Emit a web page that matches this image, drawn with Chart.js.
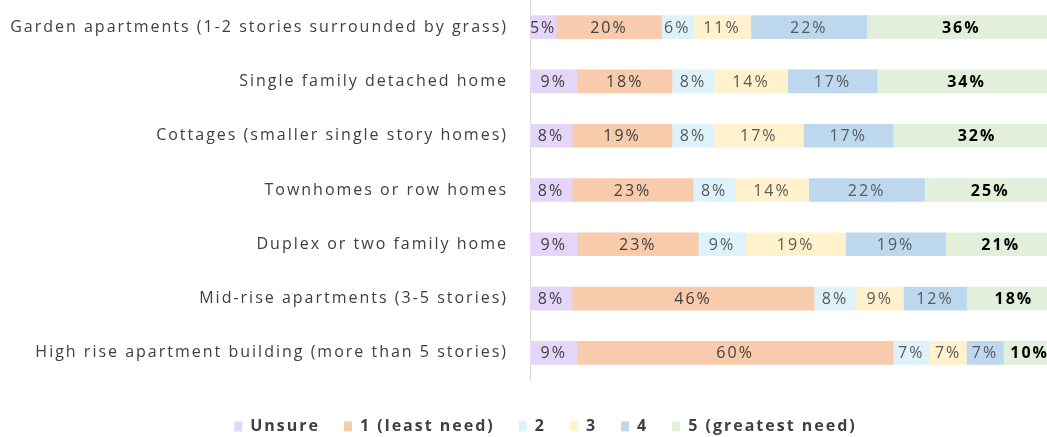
<!DOCTYPE html>
<html>
<head>
<meta charset="utf-8">
<script src="https://cdn.jsdelivr.net/npm/chart.js@4"></script>
<style>
    html, body { margin: 0; padding: 0; background: #fff; }
    #wrap { width: 1047px; height: 437px; }
</style>
</head>
<body>
<div id="wrap"><canvas id="housingChart"></canvas></div>
<script>
const categories = [
    'Garden apartments (1-2 stories surrounded by grass)',
    'Single family detached home',
    'Cottages (smaller single story homes)',
    'Townhomes or row homes',
    'Duplex or two family home',
    'Mid-rise apartments (3-5 stories)',
    'High rise apartment building (more than 5 stories)'
];

const seriesNames = ['Unsure', '1 (least need)', '2', '3', '4', '5 (greatest need)'];

const unsure = [5, 9, 8, 8, 9, 8, 9];
const need1 = [20, 18, 19, 23, 23, 46, 60];
const need2 = [6, 8, 8, 8, 9, 8, 7];
const need3 = [11, 14, 17, 14, 19, 9, 7];
const need4 = [22, 17, 17, 22, 19, 12, 7];
const need5 = [36, 34, 32, 25, 21, 18, 10];

const seriesColors = ['#e5d5f9', '#f8cbad', '#ddf2fb', '#fff2cc', '#bdd7ee', '#e2efda'];
const labelColors = ['#404040', '#404040', '#595959', '#595959', '#595959', '#000000'];

const FONT = "'Open Sans', sans-serif";
const SPACING = '2px';

// the reference text is set loosely, so widen the letters a bit
const looseText = {
    id: 'looseText',
    beforeLayout(chart) { chart.ctx.letterSpacing = SPACING; },
    beforeDraw(chart) { chart.ctx.letterSpacing = SPACING; },
    // the legend in the reference sits a little right of centre
    afterLayout(chart) { chart.legend.left += 44; }
};

// writes the percentage in the middle of each segment
const segmentLabels = {
    id: 'segmentLabels',
    afterDatasetsDraw(chart) {
        const ctx = chart.ctx;
        ctx.save();
        ctx.textAlign = 'center';
        ctx.textBaseline = 'middle';
        chart.data.datasets.forEach((dataset, i) => {
            const meta = chart.getDatasetMeta(i);
            ctx.fillStyle = labelColors[i];
            ctx.font = (i === 5 ? 'bold ' : '') + '16px ' + FONT;
            meta.data.forEach((bar, j) => {
                const cx = (bar.x + bar.base) / 2;
                ctx.fillText(dataset.data[j] + '%', cx, bar.y + 1);
            });
        });
        ctx.restore();
    }
};

function buildDatasets() {
    const values = [unsure, need1, need2, need3, need4, need5];
    return values.map((data, i) => ({
        label: seriesNames[i],
        data: data,
        backgroundColor: seriesColors[i],
        borderWidth: 0,
        barThickness: 23
    }));
}

function createChart() {
    const ctx = document.getElementById('housingChart').getContext('2d');
    new Chart(ctx, {
        type: 'bar',
        data: {
            labels: categories,
            datasets: buildDatasets()
        },
        options: {
            indexAxis: 'y',
            responsive: true,
            maintainAspectRatio: false,
            animation: false,
            layout: { padding: 0 },
            plugins: {
                legend: {
                    position: 'bottom',
                    maxHeight: 57,
                    title: { display: true, text: '', padding: 0, font: { size: 12 } },
                    labels: {
                        boxWidth: 8,
                        boxHeight: 10,
                        padding: 24,
                        color: '#404040',
                        font: { family: FONT, size: 16, weight: 'bold' }
                    }
                },
                tooltip: { enabled: false }
            },
            scales: {
                x: {
                    stacked: true,
                    display: false,
                    min: 0,
                    max: 98.3
                },
                y: {
                    stacked: true,
                    grid: { display: false },
                    border: { display: true, color: '#d9d9d9', width: 1 },
                    ticks: {
                        color: '#404040',
                        padding: 14,
                        font: { family: FONT, size: 16 }
                    },
                    afterFit(scale) {
                        scale.width = 530;
                        scale.paddingTop = 0;
                        scale.paddingBottom = 0;
                    }
                }
            }
        },
        plugins: [looseText, segmentLabels]
    });
}

document.addEventListener('DOMContentLoaded', createChart);
</script>
</body>
</html>
